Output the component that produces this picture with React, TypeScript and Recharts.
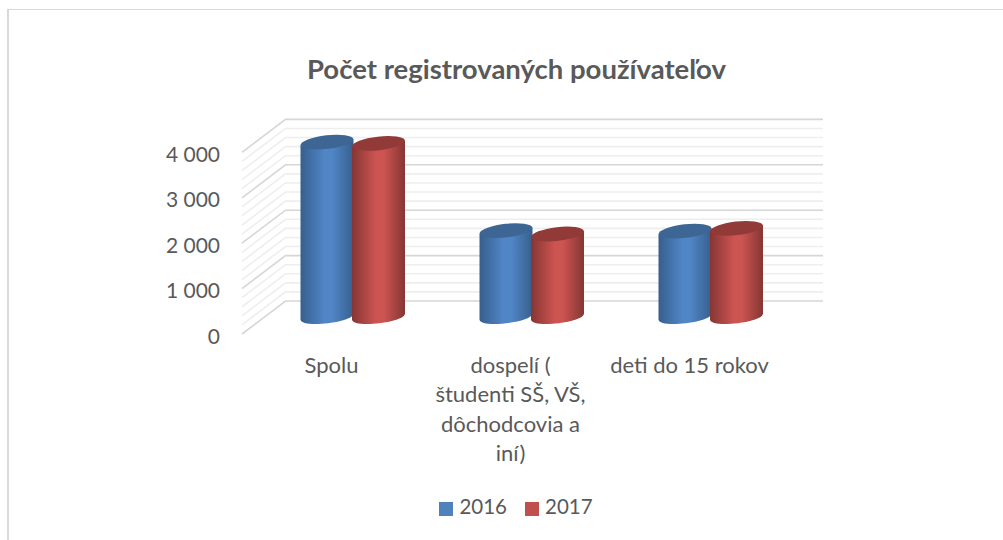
import React from "react";
import { BarChart, Bar, XAxis, YAxis, Legend, ReferenceLine } from "recharts";

const categories = [
  "Spolu",
  "dospelí (\nštudenti SŠ, VŠ,\ndôchodcovia a\niní)",
  "deti do 15 rokov",
];
const values2016 = [3840, 1890, 1880];
const values2017 = [3810, 1815, 1940];
const majorTicks = [0, 1000, 2000, 3000, 4000];
const minorTicks = [200, 400, 600, 800, 1200, 1400, 1600, 1800, 2200, 2400, 2600, 2800, 3200, 3400, 3600, 3800];
const chartTitle = "Počet registrovaných používateľov";

const data = categories.map((name, i) => ({ name, y2016: values2016[i], y2017: values2017[i] }));

const FONT = "Lato, 'Open Sans', sans-serif";
const TEXT = "#595959";
const BACK_DY = -15.4;
const FRONT_DY = 17.6;
const WALL_LEFT = 242;
const WALL_BACK = 285.5;
const WALL_RIGHT = 823;

const fmt = (v: number) => (v === 0 ? "0" : `${Math.floor(v / 1000)} ${String(v % 1000).padStart(3, "0")}`);

const wallLine = (color: string, width: number) => (p: any) => {
  const y = Number(p.y1);
  return (
    <polyline
      points={`${WALL_LEFT},${y + FRONT_DY} ${WALL_BACK},${y + BACK_DY} ${WALL_RIGHT},${y + BACK_DY}`}
      fill="none"
      stroke={color}
      strokeWidth={width}
    />
  );
};

const Cylinder = (gradient: string, topColor: string) => (p: any) => {
  const x = Number(p.x);
  const y = Number(p.y);
  const width = Number(p.width);
  const height = Number(p.height);
  const rx = width / 2;
  const ry = 6.8;
  const rot = -6.5;
  const dy = rx * Math.sin((-rot * Math.PI) / 180);
  const x0 = x;
  const x1 = x + width;
  const base = y + height;
  const k = (4 / 3) * ry;
  const body = `M${x0},${y + dy} L${x0},${base + dy} C${x0},${base + dy + k} ${x1},${base - dy + k} ${x1},${base - dy} L${x1},${y - dy} Z`;
  return (
    <g>
      <path d={body} fill={`url(#${gradient})`} />
      <ellipse cx={x + rx} cy={y} rx={rx} ry={ry} fill={topColor} transform={`rotate(${rot} ${x + rx} ${y})`} />
    </g>
  );
};

const XTick = (p: any) => {
  const lines = String(p.payload.value).split("\n");
  return (
    <text x={p.x - 21.5} y={373} textAnchor="middle" fontFamily={FONT} fontSize={22} fill={TEXT}>
      {lines.map((l, i) => (
        <tspan key={i} x={p.x - 21.5} y={373 + i * 29.3}>
          {l}
        </tspan>
      ))}
    </text>
  );
};

const YTick = (p: any) => (
  <text x={220} y={p.y + FRONT_DY + 9.5} textAnchor="end" fontFamily={FONT} fontSize={21} fill={TEXT}>
    {fmt(p.payload.value)}
  </text>
);

const NoShape = () => null;

export default function App() {
  return (
    <div
      style={{
        position: "absolute",
        left: 0,
        top: 0,
        width: 1003,
        height: 540,
        background: "#fff",
        overflow: "hidden",
      }}
    >
      <div
        style={{
          position: "absolute",
          left: 7,
          top: 9,
          width: 1000,
          height: 540,
          borderLeft: "2px solid #d9d9d9",
          borderTop: "1px solid #d9d9d9",
        }}
      />
      <div style={{ position: "absolute", left: 0, top: 0 }}>
        <BarChart
          width={1003}
          height={540}
          data={data}
          margin={{ top: 134.8, right: 202.5, bottom: 103.6, left: 203.5 }}
        >
          <text x={516.5} y={79} textAnchor="middle" fontFamily={FONT} fontWeight={700} fontSize={27.5} fill={TEXT}>
            {chartTitle}
          </text>
          <XAxis dataKey="name" axisLine={false} tickLine={false} height={120} interval={0} tick={<XTick />} />
          <YAxis
            domain={[0, 4000]}
            ticks={majorTicks}
            axisLine={false}
            tickLine={false}
            width={60}
            tick={<YTick />}
            interval={0}
          />
          <Bar dataKey="y2016" legendType="none" fill="none" shape={NoShape} isAnimationActive={false} />
          {minorTicks.map((v) => (
            <ReferenceLine key={v} y={v} shape={wallLine("#eeeeee", 1.6)} />
          ))}
          {majorTicks.map((v) => (
            <ReferenceLine key={v} y={v} shape={wallLine("#d6d6d6", 1.6)} />
          ))}
        </BarChart>
      </div>
      <div style={{ position: "absolute", left: 0, top: 0 }}>
        <BarChart
          width={1003}
          height={540}
          data={data}
          margin={{ top: 134.8, right: 202.5, bottom: 223.6, left: 263.5 }}
          barSize={53}
          barGap={-1.5}
        >
          <defs>
            <linearGradient id="gBlue" x1="0" y1="0" x2="1" y2="0">
              <stop offset="0%" stopColor="#375f8d" />
              <stop offset="45%" stopColor="#5085c6" />
              <stop offset="60%" stopColor="#5085c6" />
              <stop offset="100%" stopColor="#375f8d" />
            </linearGradient>
            <linearGradient id="gRed" x1="0" y1="0" x2="1" y2="0">
              <stop offset="0%" stopColor="#853634" />
              <stop offset="45%" stopColor="#cc5451" />
              <stop offset="60%" stopColor="#cc5451" />
              <stop offset="100%" stopColor="#853634" />
            </linearGradient>
          </defs>
          <XAxis dataKey="name" hide />
          <YAxis domain={[0, 4000]} hide />
          <Legend
            iconType="square"
            iconSize={14}
            verticalAlign="middle"
            wrapperStyle={{ position: "absolute", left: 425, top: 494, width: 200, bottom: "auto", fontFamily: FONT, fontSize: 20.5 }}
            formatter={(v: string) => <span style={{ color: TEXT, marginLeft: 2, marginRight: 8 }}>{v}</span>}
          />
          <Bar dataKey="y2016" name="2016" fill="#4f81bd" shape={Cylinder("gBlue", "#3d6694")} isAnimationActive={false} />
          <Bar dataKey="y2017" name="2017" fill="#c0504d" shape={Cylinder("gRed", "#913a38")} isAnimationActive={false} />
        </BarChart>
      </div>
    </div>
  );
}
